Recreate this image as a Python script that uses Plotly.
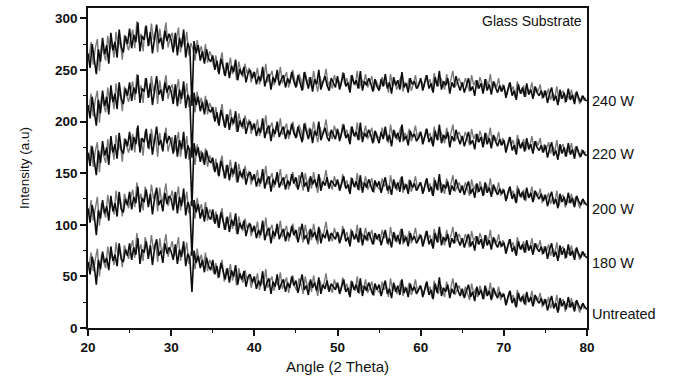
import numpy as np
import plotly.graph_objects as go

# Two overlapping XRD scans per sample, 20-80 deg (2 theta).
# Scan A on a 0.25 deg grid starting at 20.000, scan B on the interleaved grid starting at 20.125.
angles_a = np.arange(20.0, 80.0001, 0.25)
angles_b = np.arange(20.125, 80.0, 0.25)

untreated_a = [
    64, 52, 69, 60, 42, 66, 57, 74, 63, 68, 56, 79, 65, 71, 60, 82, 67, 64, 76, 70,
    82, 66, 78, 71, 87, 62, 76, 73, 84, 67, 80, 61, 77, 86, 70, 75, 63, 82, 72, 78,
    74, 66, 81, 62, 76, 69, 84, 60, 72, 67, 35, 75, 63, 70, 58, 66, 54, 68, 60, 56,
    66, 52, 60, 49, 63, 55, 47, 58, 44, 56, 50, 61, 42, 53, 47, 55, 40, 49, 52, 44,
    50, 38, 46, 41, 55, 36, 44, 48, 33, 45, 40, 52, 37, 43, 47, 35, 44, 39, 50, 41,
    46, 34, 43, 52, 37, 41, 32, 47, 39, 44, 36, 49, 33, 42, 38, 46, 35, 43, 40, 37,
    44, 33, 40, 47, 35, 39, 30, 45, 37, 42, 34, 48, 31, 41, 36, 44, 38, 32, 43, 37,
    42, 31, 39, 46, 33, 38, 29, 44, 35, 41, 32, 47, 34, 39, 30, 43, 36, 40, 33, 37,
    41, 30, 38, 45, 32, 37, 28, 43, 34, 49, 31, 39, 35, 42, 29, 38, 33, 44, 36, 31,
    38, 29, 36, 42, 30, 35, 26, 40, 32, 37, 28, 41, 31, 36, 27, 39, 33, 29, 35, 30,
    33, 22, 30, 36, 24, 29, 20, 34, 26, 31, 23, 35, 25, 30, 21, 32, 27, 24, 29, 22,
    28, 17, 25, 31, 19, 24, 15, 29, 21, 26, 18, 30, 20, 25, 16, 27, 22, 18, 24, 20,
    18,
]
untreated_b = [
    60, 73, 55, 68, 77, 50, 71, 64, 58, 79, 66, 72, 61, 83, 69, 75, 59, 80, 73, 67,
    77, 85, 68, 92, 74, 81, 65, 88, 79, 71, 90, 76, 83, 64, 87, 72, 80, 91, 69, 78,
    84, 70, 76, 88, 65, 79, 71, 83, 62, 74, 68, 57, 77, 64, 71, 59, 73, 55, 66, 61,
    53, 63, 48, 59, 66, 45, 57, 51, 62, 46, 55, 41, 58, 49, 44, 56, 47, 52, 39, 48,
    43, 53, 37, 47, 42, 57, 39, 45, 50, 36, 46, 41, 54, 38, 44, 49, 34, 42, 51, 40,
    36, 48, 42, 33, 50, 39, 45, 35, 51, 40, 31, 46, 38, 43, 53, 37, 41, 34, 47, 39,
    41, 35, 49, 37, 43, 32, 46, 40, 36, 50, 33, 42, 38, 47, 34, 39, 45, 31, 41, 36,
    34, 45, 37, 41, 30, 48, 36, 42, 33, 39, 46, 31, 40, 35, 44, 32, 38, 47, 34, 41,
    38, 32, 44, 35, 40, 29, 46, 36, 33, 42, 37, 30, 45, 34, 39, 48, 32, 37, 41, 35,
    31, 40, 34, 27, 43, 33, 38, 30, 41, 35, 28, 39, 32, 44, 29, 36, 31, 40, 27, 34,
    29, 24, 35, 27, 32, 21, 37, 28, 25, 33, 22, 30, 26, 36, 23, 31, 27, 34, 20, 28,
    23, 30, 19, 26, 21, 32, 17, 25, 28, 16, 24, 20, 29, 18, 26, 22, 15, 23, 19, 21,
]

w180_a = [
    116, 102, 119, 109, 90, 114, 106, 124, 111, 118, 104, 128, 113, 121, 108, 132, 115, 112, 125, 119,
    132, 115, 127, 121, 137, 112, 126, 122, 134, 117, 130, 110, 125, 136, 119, 124, 113, 131, 120, 128,
    125, 114, 132, 111, 127, 118, 135, 109, 122, 116, 70, 124, 112, 120, 106, 115, 103, 117, 108, 105,
    115, 101, 110, 97, 112, 104, 95, 108, 93, 105, 99, 111, 91, 102, 96, 104, 89, 98, 101, 93,
    99, 87, 95, 90, 104, 85, 93, 97, 82, 94, 89, 101, 86, 92, 96, 84, 93, 88, 99, 90,
    95, 83, 92, 101, 86, 90, 81, 96, 88, 93, 85, 98, 82, 91, 87, 95, 84, 92, 89, 86,
    93, 82, 89, 96, 84, 88, 79, 94, 86, 91, 83, 97, 80, 90, 85, 93, 87, 81, 92, 86,
    91, 80, 88, 95, 82, 87, 78, 93, 84, 90, 81, 96, 83, 88, 79, 92, 85, 89, 82, 86,
    90, 79, 87, 94, 81, 86, 77, 92, 83, 98, 80, 88, 84, 91, 78, 87, 82, 93, 85, 80,
    87, 78, 85, 91, 79, 84, 75, 89, 81, 86, 77, 90, 80, 85, 76, 88, 82, 78, 84, 79,
    83, 72, 80, 86, 74, 79, 70, 84, 76, 81, 73, 85, 75, 80, 71, 82, 77, 74, 79, 72,
    79, 67, 76, 82, 69, 74, 65, 80, 71, 77, 68, 81, 70, 75, 66, 78, 72, 68, 74, 70,
    68,
]
w180_b = [
    110, 124, 104, 118, 127, 99, 121, 113, 107, 129, 116, 122, 110, 133, 118, 125, 108, 130, 122, 116,
    126, 134, 117, 141, 123, 130, 114, 137, 128, 120, 139, 125, 132, 113, 136, 121, 129, 140, 118, 127,
    133, 119, 125, 137, 114, 128, 120, 132, 111, 123, 117, 106, 126, 113, 120, 108, 122, 104, 115, 110,
    103, 113, 98, 109, 116, 95, 107, 101, 112, 96, 105, 91, 108, 99, 94, 106, 97, 102, 89, 98,
    93, 103, 87, 97, 92, 107, 89, 95, 100, 86, 96, 91, 104, 88, 94, 99, 84, 92, 101, 90,
    86, 98, 92, 83, 100, 89, 95, 85, 101, 90, 81, 96, 88, 93, 103, 87, 91, 84, 97, 89,
    91, 85, 99, 87, 93, 82, 96, 90, 86, 100, 83, 92, 88, 97, 84, 89, 95, 81, 91, 86,
    84, 95, 87, 91, 80, 98, 86, 92, 83, 89, 96, 81, 90, 85, 94, 82, 88, 97, 84, 91,
    88, 82, 94, 85, 90, 79, 96, 86, 83, 92, 87, 80, 95, 84, 89, 98, 82, 87, 91, 85,
    83, 91, 85, 78, 94, 84, 89, 81, 92, 86, 79, 90, 83, 95, 80, 87, 82, 91, 78, 85,
    80, 75, 86, 78, 83, 72, 88, 79, 76, 84, 73, 81, 77, 87, 74, 82, 78, 85, 71, 79,
    74, 81, 70, 77, 72, 83, 68, 76, 79, 67, 75, 71, 80, 69, 77, 73, 66, 74, 70, 72,
]

w200_a = [
    170, 157, 176, 163, 148, 172, 160, 181, 167, 175, 158, 186, 170, 178, 164, 189, 173, 169, 183, 176,
    190, 172, 185, 178, 196, 170, 184, 180, 193, 174, 188, 168, 183, 195, 177, 182, 171, 189, 179, 186,
    180, 169, 187, 166, 182, 173, 190, 164, 177, 171, 118, 179, 167, 175, 161, 170, 158, 172, 163, 160,
    165, 151, 160, 147, 162, 154, 145, 158, 143, 155, 149, 161, 141, 152, 146, 154, 139, 148, 151, 143,
    149, 137, 145, 140, 154, 135, 143, 147, 132, 144, 139, 151, 136, 142, 146, 134, 143, 138, 149, 140,
    146, 134, 142, 151, 137, 141, 132, 147, 139, 144, 136, 149, 133, 142, 138, 146, 135, 143, 140, 137,
    144, 133, 140, 147, 135, 139, 130, 145, 137, 142, 134, 148, 131, 141, 136, 144, 138, 132, 143, 137,
    142, 131, 139, 146, 133, 138, 129, 144, 135, 141, 132, 147, 134, 139, 130, 143, 136, 140, 133, 137,
    141, 130, 138, 145, 132, 137, 128, 143, 134, 149, 131, 139, 135, 142, 129, 138, 133, 144, 136, 131,
    138, 129, 136, 142, 130, 135, 126, 140, 132, 137, 128, 141, 131, 136, 127, 139, 133, 129, 135, 130,
    134, 123, 131, 137, 125, 130, 121, 135, 127, 132, 124, 136, 126, 131, 122, 133, 128, 125, 130, 123,
    129, 118, 126, 132, 120, 125, 116, 130, 122, 127, 119, 131, 121, 126, 117, 128, 123, 119, 125, 121,
    119,
]
w200_b = [
    163, 177, 156, 171, 180, 151, 174, 166, 160, 183, 169, 176, 163, 187, 172, 179, 161, 184, 176, 170,
    179, 188, 170, 194, 176, 184, 167, 191, 181, 173, 193, 178, 186, 166, 189, 174, 182, 194, 171, 180,
    185, 171, 178, 190, 166, 181, 172, 186, 163, 175, 169, 158, 178, 165, 172, 160, 174, 156, 167, 162,
    153, 164, 148, 160, 167, 145, 158, 151, 163, 146, 156, 141, 159, 149, 144, 157, 147, 152, 139, 148,
    143, 153, 137, 147, 142, 157, 139, 145, 150, 136, 146, 141, 154, 138, 144, 149, 134, 142, 151, 140,
    136, 148, 142, 133, 150, 139, 145, 135, 151, 140, 131, 146, 138, 143, 153, 137, 141, 134, 147, 139,
    141, 135, 149, 137, 143, 132, 146, 140, 136, 150, 133, 142, 138, 147, 134, 139, 145, 131, 141, 136,
    134, 145, 137, 141, 130, 148, 136, 142, 133, 139, 146, 131, 140, 135, 144, 132, 138, 147, 134, 141,
    138, 132, 144, 135, 140, 129, 146, 136, 133, 142, 137, 130, 145, 134, 139, 148, 132, 137, 141, 135,
    133, 141, 135, 128, 144, 134, 139, 131, 142, 136, 129, 140, 133, 145, 130, 137, 132, 141, 128, 135,
    130, 125, 136, 128, 133, 122, 138, 129, 126, 134, 123, 131, 127, 137, 124, 132, 128, 135, 121, 129,
    124, 131, 120, 127, 122, 133, 118, 126, 129, 117, 125, 121, 130, 119, 127, 123, 116, 124, 120, 122,
]

w220_a = [
    216, 203, 224, 210, 196, 221, 208, 230, 215, 224, 207, 235, 219, 227, 212, 238, 222, 217, 232, 225,
    238, 220, 233, 227, 245, 218, 232, 229, 242, 223, 237, 216, 231, 244, 226, 231, 220, 238, 228, 235,
    229, 217, 236, 215, 231, 222, 239, 213, 226, 220, 165, 228, 216, 224, 210, 219, 207, 221, 212, 209,
    214, 200, 209, 196, 211, 203, 194, 207, 192, 204, 198, 210, 190, 201, 195, 203, 188, 197, 200, 192,
    198, 186, 194, 189, 203, 184, 192, 196, 181, 193, 188, 200, 185, 191, 195, 183, 192, 187, 198, 189,
    184, 195, 187, 180, 198, 190, 183, 193, 179, 191, 186, 200, 182, 188, 194, 185, 181, 192, 187, 183,
    193, 181, 189, 197, 184, 188, 178, 195, 186, 190, 182, 199, 180, 189, 185, 192, 187, 179, 191, 184,
    179, 190, 183, 195, 181, 187, 176, 192, 184, 189, 180, 197, 182, 186, 177, 191, 185, 188, 181, 184,
    190, 178, 186, 193, 180, 185, 176, 191, 182, 197, 179, 187, 183, 190, 175, 186, 181, 192, 184, 178,
    186, 176, 183, 190, 178, 182, 173, 188, 180, 185, 175, 189, 178, 184, 174, 187, 181, 176, 183, 177,
    182, 170, 178, 185, 172, 177, 168, 183, 174, 180, 171, 184, 173, 178, 169, 181, 175, 172, 177, 170,
    177, 165, 174, 180, 167, 172, 163, 178, 169, 175, 166, 179, 168, 173, 164, 176, 170, 166, 172, 168,
    167,
]
w220_b = [
    212, 227, 205, 221, 230, 199, 224, 216, 209, 233, 219, 226, 212, 237, 222, 229, 210, 234, 226, 219,
    230, 239, 221, 246, 227, 235, 218, 242, 232, 224, 244, 229, 237, 217, 240, 225, 233, 245, 222, 231,
    236, 222, 229, 241, 217, 232, 223, 237, 214, 226, 220, 209, 229, 216, 223, 211, 225, 207, 218, 213,
    203, 214, 198, 209, 217, 195, 207, 201, 212, 196, 205, 190, 208, 199, 193, 206, 197, 202, 188, 198,
    192, 202, 186, 196, 191, 206, 188, 194, 199, 185, 195, 190, 203, 187, 193, 198, 183, 191, 200, 189,
    185, 197, 191, 182, 199, 188, 194, 184, 200, 189, 180, 195, 187, 192, 202, 186, 190, 183, 196, 188,
    190, 184, 198, 186, 192, 181, 195, 189, 185, 199, 182, 191, 187, 196, 183, 188, 194, 180, 190, 185,
    183, 194, 186, 190, 179, 197, 185, 191, 182, 188, 195, 180, 189, 184, 193, 181, 187, 196, 183, 190,
    187, 181, 193, 184, 189, 178, 195, 185, 182, 191, 186, 179, 194, 183, 188, 197, 181, 186, 190, 184,
    182, 190, 184, 177, 193, 183, 188, 180, 191, 185, 178, 189, 182, 194, 179, 186, 181, 190, 177, 184,
    179, 174, 185, 177, 182, 171, 187, 178, 175, 183, 172, 180, 176, 186, 173, 181, 177, 184, 170, 178,
    173, 180, 169, 176, 171, 182, 167, 175, 178, 166, 174, 170, 179, 168, 176, 172, 165, 173, 169, 171,
]

w240_a = [
    266, 252, 275, 260, 246, 270, 258, 281, 265, 274, 256, 286, 269, 277, 262, 289, 272, 267, 283, 275,
    290, 271, 284, 277, 296, 268, 283, 279, 293, 273, 287, 266, 282, 294, 276, 281, 270, 288, 278, 285,
    279, 267, 286, 264, 281, 272, 289, 262, 276, 270, 215, 278, 266, 274, 259, 268, 256, 270, 261, 258,
    264, 250, 259, 246, 261, 253, 244, 257, 242, 254, 248, 260, 240, 251, 245, 253, 238, 247, 250, 242,
    248, 236, 244, 239, 253, 234, 242, 246, 231, 243, 238, 250, 235, 241, 245, 233, 242, 237, 248, 239,
    233, 245, 237, 230, 248, 240, 232, 243, 229, 241, 236, 250, 231, 238, 244, 235, 230, 242, 237, 233,
    244, 231, 239, 247, 234, 238, 228, 245, 236, 240, 232, 249, 230, 239, 235, 242, 237, 229, 241, 234,
    230, 241, 234, 246, 232, 238, 227, 243, 235, 240, 231, 248, 233, 237, 228, 242, 236, 239, 232, 235,
    242, 230, 238, 245, 232, 237, 228, 243, 234, 249, 231, 239, 235, 242, 227, 238, 233, 244, 236, 230,
    238, 228, 235, 242, 230, 234, 225, 240, 232, 237, 227, 241, 230, 236, 226, 239, 233, 228, 235, 229,
    235, 223, 231, 238, 225, 230, 221, 236, 227, 233, 224, 237, 226, 231, 222, 234, 228, 225, 230, 223,
    230, 218, 227, 233, 220, 225, 216, 231, 222, 228, 219, 232, 221, 226, 217, 229, 223, 219, 225, 221,
    220,
]
w240_b = [
    262, 277, 255, 271, 280, 249, 274, 266, 259, 283, 269, 276, 262, 287, 272, 279, 260, 284, 276, 269,
    280, 289, 271, 297, 277, 285, 268, 292, 282, 274, 295, 279, 287, 267, 290, 275, 283, 296, 272, 281,
    286, 272, 279, 291, 267, 282, 273, 287, 264, 276, 270, 259, 279, 266, 273, 261, 275, 257, 268, 263,
    253, 264, 248, 259, 267, 245, 257, 251, 262, 246, 255, 240, 258, 249, 243, 256, 247, 252, 238, 248,
    242, 252, 236, 246, 241, 256, 238, 244, 249, 235, 245, 240, 253, 237, 243, 248, 233, 241, 250, 239,
    234, 246, 240, 231, 248, 237, 243, 233, 249, 238, 229, 244, 236, 241, 251, 235, 239, 232, 245, 237,
    240, 234, 248, 236, 242, 231, 245, 239, 235, 249, 232, 241, 237, 246, 233, 238, 244, 230, 240, 235,
    232, 243, 235, 239, 228, 246, 234, 240, 231, 237, 244, 229, 238, 233, 242, 230, 236, 245, 232, 239,
    239, 233, 245, 236, 241, 230, 247, 237, 234, 243, 238, 231, 246, 235, 240, 249, 233, 238, 242, 236,
    234, 242, 236, 229, 245, 235, 240, 232, 243, 237, 230, 241, 234, 246, 231, 238, 233, 242, 229, 236,
    231, 226, 237, 229, 234, 223, 239, 230, 227, 235, 224, 232, 228, 238, 225, 233, 229, 236, 222, 230,
    225, 232, 221, 228, 223, 234, 219, 227, 230, 218, 226, 222, 231, 220, 228, 224, 217, 225, 221, 223,
]

sample_names = ["Untreated", "180 W", "200 W", "220 W", "240 W"]
scans_a = [untreated_a, w180_a, w200_a, w220_a, w240_a]
scans_b = [untreated_b, w180_b, w200_b, w220_b, w240_b]
label_y = [14, 63, 115, 169, 220]

FONT = "Liberation Sans, Arial, sans-serif"

fig = go.Figure()
for name, ya, yb in zip(sample_names, scans_a, scans_b):
    fig.add_trace(go.Scatter(
        x=angles_b[:len(yb)], y=yb, mode="lines", name=name + " (scan B)",
        line=dict(color="#7a7a7a", width=1.4),
        showlegend=False, hoverinfo="skip",
    ))
    fig.add_trace(go.Scatter(
        x=angles_a[:len(ya)], y=ya, mode="lines", name=name,
        line=dict(color="#0d0d0d", width=1.6),
        showlegend=False, hoverinfo="skip",
    ))

for name, yv in zip(sample_names, label_y):
    fig.add_annotation(
        x=1.0, xref="paper", y=yv, yref="y", text=name, showarrow=False,
        xanchor="left", xshift=3, font=dict(family=FONT, size=14.5, color="#111"),
    )

fig.add_annotation(
    x=0.993, xref="paper", y=297, yref="y", text="Glass Substrate", showarrow=False,
    xanchor="right", font=dict(family=FONT, size=14, color="#111"),
)

axis_common = dict(
    showline=True, linecolor="#111", linewidth=1.5, mirror=True,
    ticks="outside", ticklen=6, tickwidth=1.5, tickcolor="#111",
    showgrid=False, zeroline=False,
    tickfont=dict(family=FONT, size=13.5, color="#111", weight="bold"),
)

fig.update_xaxes(
    range=[20, 80], dtick=10, tick0=20,
    minor=dict(dtick=5, ticks="outside", ticklen=3, tickwidth=1.2, tickcolor="#111"),
    title=dict(text="Angle (2 Theta)", font=dict(family=FONT, size=15, color="#111"), standoff=8),
    **axis_common,
)
fig.update_yaxes(
    range=[0, 310], dtick=50, tick0=0,
    minor=dict(dtick=25, ticks="outside", ticklen=3, tickwidth=1.2, tickcolor="#111"),
    title=dict(text="Intensity (a.u)", font=dict(family=FONT, size=13.5, color="#111"), standoff=22),
    **axis_common,
)

fig.update_layout(
    width=674, height=379,
    margin=dict(l=88, r=87, t=6, b=50),
    paper_bgcolor="white", plot_bgcolor="white",
)

fig.write_html("out.html")
